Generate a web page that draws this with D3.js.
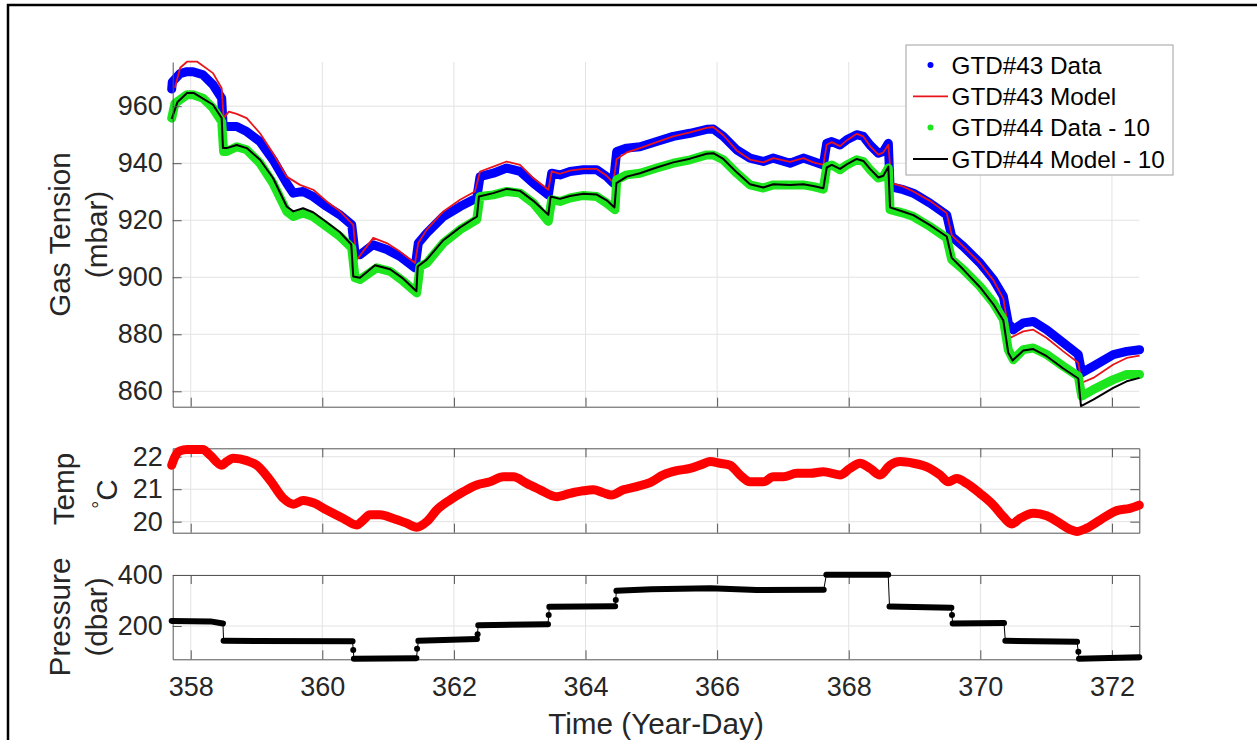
<!DOCTYPE html>
<html><head><meta charset="utf-8">
<script src="https://cdn.jsdelivr.net/npm/d3@7"></script>
<style>body{margin:0;background:#fff}svg{display:block}</style>
</head><body><svg id="c" width="1257" height="740"></svg>
<script>
// ---------- DATA ----------
const xTicks = [358, 360, 362, 364, 366, 368, 370, 372];
const gasTicks = [860, 880, 900, 920, 940, 960];
const tempTicks = [20, 21, 22];
const presTicks = [200, 400];
const legendLabels = ["GTD#43 Data", "GTD#43 Model", "GTD#44 Data - 10", "GTD#44 Model - 10"];

const gtd43Data = [[357.711,966.0],[357.72,968.5],[357.837,971.4],[357.944,972.1],[358.035,972.1],[358.187,971.0],[358.339,967.5],[358.471,962.8],[358.49,954.0],[358.547,952.9],[358.699,952.9],[358.851,951.1],[359.053,947.6],[359.251,941.2],[359.459,933.0],[359.559,929.5],[359.707,930.1],[359.859,928.3],[360.067,924.8],[360.269,921.9],[360.447,918.4],[360.497,908.5],[360.573,907.9],[360.770,911.4],[360.979,909.7],[361.181,907.3],[361.409,903.3],[361.459,912.0],[361.587,915.5],[361.839,921.3],[362.093,924.8],[362.347,927.8],[362.397,935.3],[362.599,936.5],[362.802,938.3],[363.005,937.1],[363.207,933.0],[363.435,928.9],[363.486,936.5],[363.612,935.9],[363.764,937.1],[363.967,937.7],[364.170,937.7],[364.322,935.3],[364.422,933.0],[364.474,944.1],[364.626,945.3],[364.828,945.8],[365.082,947.6],[365.334,949.4],[365.588,950.5],[365.842,951.9],[365.942,952.0],[366.094,949.4],[366.298,944.7],[366.500,941.8],[366.702,940.6],[366.854,941.8],[367.108,940.0],[367.310,941.8],[367.462,940.6],[367.614,939.4],[367.666,947.0],[367.742,947.6],[367.868,946.4],[367.970,948.2],[368.122,950.0],[368.222,949.4],[368.324,946.4],[368.450,943.5],[368.526,944.1],[368.602,947.0],[368.628,931.8],[368.830,930.7],[368.982,929.5],[369.235,926.0],[369.489,921.9],[369.565,914.3],[369.742,910.8],[369.995,905.0],[370.198,899.2],[370.350,893.3],[370.425,884.0],[370.502,881.6],[370.653,884.0],[370.805,884.5],[371.009,881.6],[371.261,877.0],[371.489,872.9],[371.541,866.5],[371.717,868.8],[372.021,872.9],[372.225,874.0],[372.42,874.6]];

const gtd43Model = [[357.76,966.5],[357.84,973.5],[357.944,975.6],[358.10,975.6],[358.339,971.6],[358.471,966.3],[358.50,955.8],[358.58,958.1],[358.699,957.3],[358.851,955.8],[359.053,950.5],[359.251,943.5],[359.459,935.3],[359.66,932.4],[359.863,930.7],[360.067,926.6],[360.269,923.1],[360.47,918.4],[360.52,906.0],[360.775,913.8],[360.979,912.0],[361.181,909.0],[361.409,905.0],[361.459,912.0],[361.587,916.7],[361.839,923.1],[362.093,927.2],[362.32,930.1],[362.397,937.1],[362.599,938.8],[362.802,940.6],[363.005,939.4],[363.207,934.8],[363.435,930.7],[363.486,937.1],[363.612,936.3],[363.764,937.4],[363.967,938.0],[364.170,938.0],[364.322,935.6],[364.422,933.2],[364.474,941.5],[364.626,943.8],[364.828,945.3],[365.082,947.4],[365.334,949.4],[365.588,950.8],[365.842,952.4],[365.942,952.7],[366.094,949.8],[366.298,944.5],[366.500,941.3],[366.702,940.3],[366.854,941.8],[367.108,940.5],[367.310,941.8],[367.462,940.3],[367.614,939.4],[367.666,946.5],[367.742,947.4],[367.868,946.0],[367.970,948.0],[368.122,950.3],[368.222,949.4],[368.324,946.0],[368.450,943.0],[368.526,943.8],[368.602,946.5],[368.65,933.0],[368.830,931.8],[368.982,930.1],[369.235,926.8],[369.489,922.5],[369.565,914.8],[369.742,910.8],[369.995,905.0],[370.198,899.0],[370.350,892.5],[370.45,878.7],[370.653,881.0],[370.805,881.6],[371.009,878.7],[371.261,874.0],[371.489,870.0],[371.541,863.0],[371.717,864.7],[372.021,869.4],[372.225,871.7],[372.42,872.5]];

const gtd44Data = [[357.711,955.8],[357.761,961.0],[357.944,964.0],[358.035,964.0],[358.187,962.8],[358.339,959.3],[358.471,954.6],[358.50,944.1],[358.547,944.1],[358.699,945.8],[358.851,944.7],[359.053,940.0],[359.251,933.0],[359.459,923.1],[359.559,921.3],[359.707,922.5],[359.859,921.3],[360.067,917.8],[360.269,914.3],[360.447,910.3],[360.497,899.8],[360.573,899.2],[360.827,903.3],[361.029,902.1],[361.231,898.6],[361.435,894.5],[361.485,903.8],[361.587,905.0],[361.839,912.0],[362.093,916.7],[362.347,920.2],[362.397,928.3],[362.599,928.9],[362.802,930.1],[363.005,929.5],[363.207,926.0],[363.435,919.6],[363.486,927.2],[363.612,926.6],[363.764,927.8],[363.967,928.7],[364.170,928.3],[364.322,926.0],[364.448,923.7],[364.474,934.2],[364.626,935.9],[364.828,936.5],[365.082,938.3],[365.334,940.0],[365.588,941.2],[365.842,942.9],[365.942,942.9],[366.094,941.2],[366.298,936.5],[366.500,932.4],[366.702,931.3],[366.854,932.4],[367.108,932.4],[367.310,932.4],[367.462,931.8],[367.614,930.9],[367.666,938.8],[367.742,939.4],[367.868,937.7],[367.970,939.4],[368.122,941.2],[368.222,940.6],[368.324,937.7],[368.450,934.8],[368.526,935.3],[368.602,938.3],[368.628,923.7],[368.830,922.5],[368.982,921.3],[369.235,917.8],[369.489,913.8],[369.565,906.2],[369.742,902.7],[369.995,896.8],[370.198,891.0],[370.350,885.2],[370.425,874.6],[370.502,871.1],[370.653,874.6],[370.805,875.2],[371.009,872.9],[371.261,868.8],[371.489,865.3],[371.541,858.3],[371.717,860.6],[372.021,864.1],[372.225,865.9],[372.42,865.9]];

const gtd44Model = [[357.711,955.5],[357.80,961.5],[357.944,964.6],[358.05,964.6],[358.339,960.5],[358.471,955.8],[358.49,945.3],[358.547,945.3],[358.699,946.4],[358.851,945.3],[359.053,941.2],[359.251,934.8],[359.459,924.8],[359.559,923.1],[359.707,924.2],[359.859,922.8],[360.067,919.3],[360.269,915.8],[360.44,911.5],[360.47,900.3],[360.573,899.8],[360.80,904.2],[361.03,902.8],[361.23,899.5],[361.43,895.1],[361.45,903.8],[361.587,906.2],[361.839,913.0],[362.093,917.5],[362.35,921.3],[362.38,928.3],[362.599,929.5],[362.802,931.0],[363.005,930.3],[363.207,926.8],[363.435,921.9],[363.47,928.3],[363.612,927.5],[363.764,928.5],[363.967,929.3],[364.170,929.0],[364.322,927.0],[364.44,924.5],[364.47,933.0],[364.626,935.3],[364.828,936.5],[365.082,938.5],[365.334,940.3],[365.588,941.6],[365.842,943.3],[365.942,943.5],[366.094,941.5],[366.298,936.8],[366.500,932.6],[366.702,931.5],[366.854,932.6],[367.108,932.4],[367.310,932.6],[367.462,932.0],[367.614,931.2],[367.666,938.5],[367.742,939.4],[367.868,938.0],[367.970,939.6],[368.122,941.5],[368.222,940.8],[368.324,938.0],[368.450,935.0],[368.526,935.6],[368.602,938.8],[368.628,924.5],[368.830,923.0],[368.982,921.8],[369.235,918.3],[369.489,914.3],[369.565,906.8],[369.742,902.7],[369.995,896.5],[370.198,890.5],[370.350,884.8],[370.425,873.5],[370.49,870.8],[370.653,874.3],[370.805,874.8],[371.009,872.3],[371.261,868.0],[371.489,864.5],[371.53,854.8],[371.717,857.1],[372.021,861.2],[372.225,863.5],[372.42,864.7]];

const temperature = [[357.711,21.74],[357.761,22.0],[357.837,22.18],[357.944,22.22],[358.187,22.22],[358.293,22.05],[358.471,21.74],[358.547,21.85],[358.647,21.95],[358.851,21.88],[359.003,21.74],[359.205,21.28],[359.407,20.72],[359.559,20.54],[359.711,20.65],[359.863,20.58],[360.067,20.36],[360.319,20.10],[360.523,19.90],[360.623,20.05],[360.725,20.21],[360.877,20.21],[361.079,20.10],[361.283,19.95],[361.435,19.83],[361.587,20.0],[361.739,20.36],[361.941,20.67],[362.143,20.92],[362.347,21.13],[362.549,21.23],[362.751,21.38],[362.903,21.38],[363.106,21.18],[363.309,20.98],[363.562,20.77],[363.764,20.87],[363.967,20.95],[364.119,20.98],[364.271,20.89],[364.398,20.82],[364.574,20.98],[364.778,21.08],[364.980,21.2],[365.182,21.44],[365.386,21.57],[365.588,21.64],[365.790,21.78],[365.892,21.85],[366.043,21.80],[366.196,21.74],[366.348,21.44],[366.500,21.23],[366.702,21.23],[366.854,21.38],[367.006,21.38],[367.210,21.49],[367.412,21.49],[367.614,21.54],[367.868,21.44],[368.020,21.64],[368.172,21.80],[368.324,21.64],[368.476,21.44],[368.628,21.74],[368.780,21.85],[368.982,21.80],[369.185,21.69],[369.387,21.44],[369.514,21.23],[369.641,21.33],[369.793,21.18],[369.995,20.87],[370.198,20.51],[370.350,20.15],[370.477,19.93],[370.603,20.10],[370.805,20.26],[371.009,20.18],[371.211,19.95],[371.363,19.76],[371.464,19.70],[371.617,19.80],[371.819,20.05],[372.073,20.34],[372.275,20.41],[372.416,20.51]];

// pressure plateaus: each is a list of [day, dbar]
const pressureSteps = [
  [[357.711,220],[358.30,218],[358.49,210]],
  [[358.50,142],[360.46,140]],
  [[360.48,72],[361.43,74]],
  [[361.46,142],[362.35,149]],
  [[362.37,203],[363.43,207]],
  [[363.45,275],[364.45,277]],
  [[364.47,338],[365.0,344],[365.9,348],[366.6,341],[367.62,342]],
  [[367.66,401],[368.60,401]],
  [[368.62,276],[369.56,272]],
  [[369.58,210],[370.36,212]],
  [[370.38,142],[371.47,138]],
  [[371.50,72],[372.416,77]]
];
const pressureTransit = [[360.47,106],[361.44,111],[362.36,168],[363.44,243],[364.46,302],[369.57,243],[371.49,99]];

// ---------- LAYOUT ----------
const FONT = '"Liberation Sans", Arial, Helvetica, sans-serif';
const L = 172.7, R = 1139.3;
const svg = d3.select("#c");
svg.append("rect").attr("width",1257).attr("height",740).attr("fill","#fff");
svg.append("path").attr("d","M8,740 L8,5 L1257,5").attr("fill","none").attr("stroke","#000").attr("stroke-width",2.5);

const x = d3.scaleLinear().domain([357.7264, 372.416]).range([L, R]);
const yGas = d3.scaleLinear().domain([854.6, 975.5]).range([406.7, 62]);
const yTemp = d3.scaleLinear().domain([19.66, 22.26]).range([532.7, 448.3]);
const yPres = d3.scaleLinear().domain([69.4, 400]).range([659.3, 575]);

const AX = "#555", GRID = "#e3e3e3", TXT = "#262626";

function grid(y, yt, top, bottom) {
  const g = svg.append("g");
  g.selectAll(".vx").data(xTicks).join("line")
    .attr("x1", d => x(d)).attr("x2", d => x(d)).attr("y1", top).attr("y2", bottom)
    .attr("stroke", GRID).attr("stroke-width", 1);
  g.selectAll(".hy").data(yt).join("line")
    .attr("x1", L).attr("x2", R).attr("y1", d => y(d)).attr("y2", d => y(d))
    .attr("stroke", GRID).attr("stroke-width", 1);
}
function styleAxis(g, size) {
  g.attr("font-family", FONT).attr("font-size", size);
  g.selectAll("path,line").attr("stroke", AX);
  g.selectAll("text").attr("fill", TXT);
}
function axes(y, yt, top, bottom, box, xlabels) {
  const gl = svg.append("g").attr("transform", `translate(${L},0)`)
    .call(d3.axisLeft(y).tickValues(yt).tickSize(-9).tickSizeOuter(0).tickPadding(10).tickFormat(d3.format("d")));
  styleAxis(gl, 27);
  const gb = svg.append("g").attr("transform", `translate(0,${bottom})`)
    .call(d3.axisBottom(x).tickValues(xTicks).tickSize(-9).tickSizeOuter(0).tickPadding(18)
      .tickFormat(xlabels ? d3.format("d") : ""));
  styleAxis(gb, 27);
  if (box) {
    const gt = svg.append("g").attr("transform", `translate(0,${top})`)
      .call(d3.axisTop(x).tickValues(xTicks).tickSize(-9).tickSizeOuter(0).tickFormat(""));
    styleAxis(gt, 27);
    const gr = svg.append("g").attr("transform", `translate(${R},0)`)
      .call(d3.axisRight(y).tickValues(yt).tickSize(-9).tickSizeOuter(0).tickFormat(""));
    styleAxis(gr, 27);
  }
}

// ---------- PANEL 1: gas tension ----------
grid(yGas, gasTicks, 62, 406.7);
const lineGas = d3.line().x(d => x(d[0])).y(d => yGas(d[1]));
svg.append("path").datum(gtd43Data).attr("d", lineGas).attr("fill","none").attr("stroke","#0000ff")
  .attr("stroke-width",9).attr("stroke-linejoin","round").attr("stroke-linecap","round");
svg.append("path").datum(gtd43Model).attr("d", lineGas).attr("fill","none").attr("stroke","#e8141b")
  .attr("stroke-width",1.8).attr("stroke-linejoin","round");
svg.append("path").datum(gtd44Data).attr("d", lineGas).attr("fill","none").attr("stroke","#1ee61e")
  .attr("stroke-width",9).attr("stroke-linejoin","round").attr("stroke-linecap","round");
svg.append("path").datum(gtd44Model).attr("d", lineGas).attr("fill","none").attr("stroke","#000")
  .attr("stroke-width",2).attr("stroke-linejoin","round");
axes(yGas, gasTicks, 62, 406.7, false, false);

// ---------- PANEL 2: temperature ----------
grid(yTemp, tempTicks, 448.3, 532.7);
axes(yTemp, tempTicks, 448.3, 532.7, true, false);
const lineTemp = d3.line().x(d => x(d[0])).y(d => yTemp(d[1])).curve(d3.curveMonotoneX);
svg.append("path").datum(temperature).attr("d", lineTemp).attr("fill","none").attr("stroke","#ff0000")
  .attr("stroke-width",9).attr("stroke-linejoin","round").attr("stroke-linecap","round");

// ---------- PANEL 3: pressure ----------
grid(yPres, presTicks, 575, 659.3);
axes(yPres, presTicks, 575, 659.3, true, true);
const linePres = d3.line().x(d => x(d[0])).y(d => yPres(d[1]));
svg.append("path").datum(pressureSteps.flat()).attr("d", linePres).attr("fill","none")
  .attr("stroke","#000").attr("stroke-width",1);
svg.selectAll(".pstep").data(pressureSteps).join("path").attr("d", linePres).attr("fill","none")
  .attr("stroke","#000").attr("stroke-width",6).attr("stroke-linecap","round").attr("stroke-linejoin","round");
svg.selectAll(".ptr").data(pressureTransit).join("circle")
  .attr("cx", d => x(d[0])).attr("cy", d => yPres(d[1])).attr("r", 3).attr("fill","#000");

// ---------- LABELS ----------
function ylab(lines, cy) {
  lines.forEach(([txt, bx]) => {
    svg.append("text").attr("transform", `translate(${bx},${cy}) rotate(-90)`)
      .attr("text-anchor","middle").attr("font-family",FONT).attr("font-size",29.7).attr("fill",TXT)
      .text(txt);
  });
}
ylab([["Gas Tension",70],["(mbar)",107]], 234.5);
ylab([["Temp",73.5]], 489);
const tc = svg.append("text").attr("transform", `translate(117,494) rotate(-90)`)
  .attr("text-anchor","middle").attr("font-family",FONT).attr("font-size",29.7).attr("fill",TXT);
tc.append("tspan").attr("font-size",20).attr("dy",-10).text("°");
tc.append("tspan").attr("dy",10).text("C");
ylab([["Pressure",70],["(dbar)",107]], 617);

svg.append("text").attr("x", (L+R)/2).attr("y", 734).attr("text-anchor","middle")
  .attr("font-family",FONT).attr("font-size",29.7).attr("fill",TXT).text("Time (Year-Day)");

// ---------- LEGEND ----------
const lg = svg.append("g");
lg.append("rect").attr("x",906).attr("y",45).attr("width",267).attr("height",130)
  .attr("fill","#fff").attr("stroke","#a0a0a0").attr("stroke-width",1);
const legColors = ["#0000ff","#e8141b","#1ee61e","#000"];
const legIsDot = [true,false,true,false];
const rows = lg.selectAll(".row").data(legendLabels).join("g")
  .attr("transform", (d,i) => `translate(0,${65 + i*31.3})`);
rows.each(function(d,i){
  const g = d3.select(this);
  if (legIsDot[i]) g.append("circle").attr("cx",930.5).attr("cy",0).attr("r",3).attr("fill",legColors[i]);
  else g.append("line").attr("x1",913).attr("x2",948).attr("y1",0).attr("y2",0)
        .attr("stroke",legColors[i]).attr("stroke-width",i===1?1.8:2);
  g.append("text").attr("x",951.5).attr("y",8.7).attr("font-family",FONT).attr("font-size",24.3)
    .attr("fill","#000").text(d);
});
</script></body></html>
